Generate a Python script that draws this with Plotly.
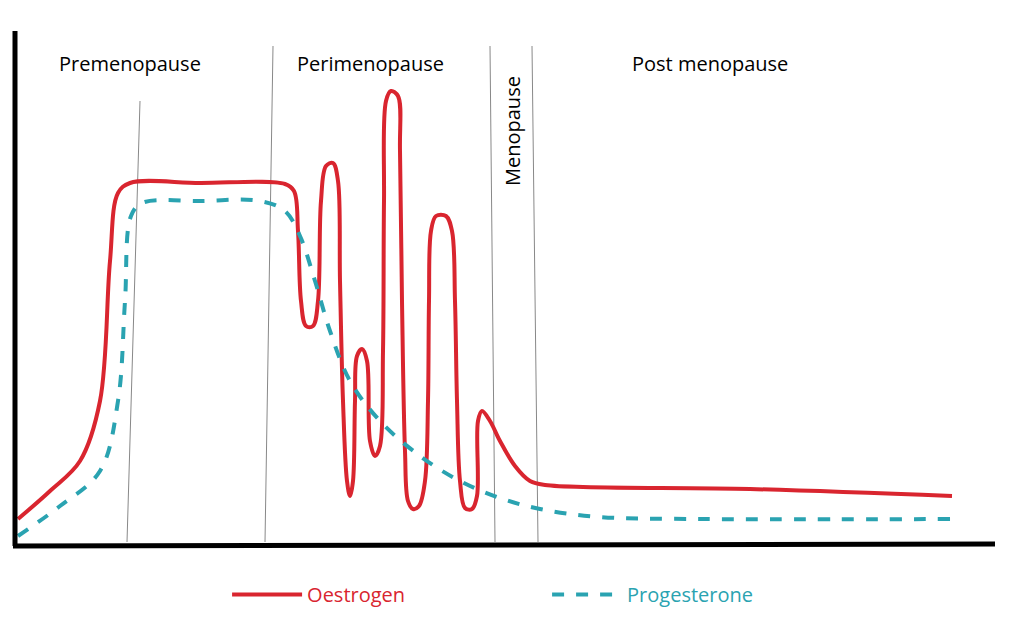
import plotly.graph_objects as go

RED = "#d9252f"
TEAL = "#2aa3b1"

# schematic curves (x: time position, y: level, screen-down units)
oest_x = [18, 50, 80, 100, 110, 118, 130, 200, 285, 294, 298, 301, 306, 313, 318, 321, 326, 333, 338, 340, 343, 347, 350, 353, 355, 357, 362, 367, 370, 375, 380, 383, 384, 386, 391, 398, 400, 402, 405, 408, 413, 419, 425, 428, 429, 431, 436, 446, 452, 455, 457, 460, 465, 472, 477, 478, 482, 490, 500, 515, 530, 545, 750, 952]
oest_y = [518, 490, 460, 400, 260, 192, 182, 182, 183, 190, 230, 300, 325, 325, 300, 200, 165, 162, 180, 280, 400, 480, 495, 480, 400, 355, 348, 360, 440, 455, 445, 350, 200, 100, 90, 95, 150, 300, 450, 500, 508, 505, 480, 400, 300, 230, 215, 215, 230, 300, 400, 480, 507, 508, 495, 420, 410, 420, 440, 465, 480, 484, 488, 495]
prog_x = [18, 60, 100, 118, 125, 131, 142, 200, 260, 285, 300, 315, 330, 350, 380, 420, 460, 500, 540, 600, 700, 955]
prog_y = [535, 505, 470, 400, 300, 215, 202, 200, 200, 210, 235, 280, 330, 380, 420, 455, 480, 497, 508, 516, 518, 518]

# phase divider lines (top x, top y, bottom x)
div_top_x = [140, 273, 490, 532]
div_top_y = [100, 45, 45, 45]
div_bot_x = [127, 265, 495, 538]

phase_names = ["Premenopause", "Perimenopause", "Post menopause"]
phase_x = [130, 370, 710]

fig = go.Figure()
for tx, ty, bx in zip(div_top_x, div_top_y, div_bot_x):
    fig.add_trace(go.Scatter(x=[tx, bx], y=[ty, 541], mode="lines",
                             line=dict(color="#888888", width=1), showlegend=False, hoverinfo="skip"))

fig.add_trace(go.Scatter(x=oest_x, y=oest_y, mode="lines", line_shape="spline",
                         line=dict(color=RED, width=4),
                         name=f"<span style='color:{RED}'>Oestrogen</span>"))
fig.add_trace(go.Scatter(x=prog_x, y=prog_y, mode="lines", line_shape="spline",
                         line=dict(color=TEAL, width=4, dash="dash"),
                         name=f"<span style='color:{TEAL}'>Progesterone</span>"))

# axes
fig.add_shape(type="line", x0=15, y0=30, x1=15, y1=545, line=dict(color="black", width=5))
fig.add_shape(type="line", x0=13, y0=545, x1=995, y1=543, line=dict(color="black", width=5))

for name, x in zip(phase_names, phase_x):
    fig.add_annotation(x=x, y=62, text=name, showarrow=False, font=dict(size=20, color="black"))
fig.add_annotation(x=512, y=130, text="Menopause", textangle=-90, showarrow=False,
                   font=dict(size=20, color="black"))

fig.update_layout(
    width=1019, height=624, margin=dict(l=0, r=0, t=0, b=0),
    plot_bgcolor="white", paper_bgcolor="white",
    font=dict(family="Open Sans, Lato, sans-serif", size=20),
    xaxis=dict(range=[8, 1027], visible=False),
    yaxis=dict(range=[631, 7], visible=False),
    legend=dict(orientation="h", x=0.215, y=0.06, xanchor="left", yanchor="middle",
                itemwidth=70, entrywidth=235, font=dict(size=20)),
)

fig.write_html("out.html")
